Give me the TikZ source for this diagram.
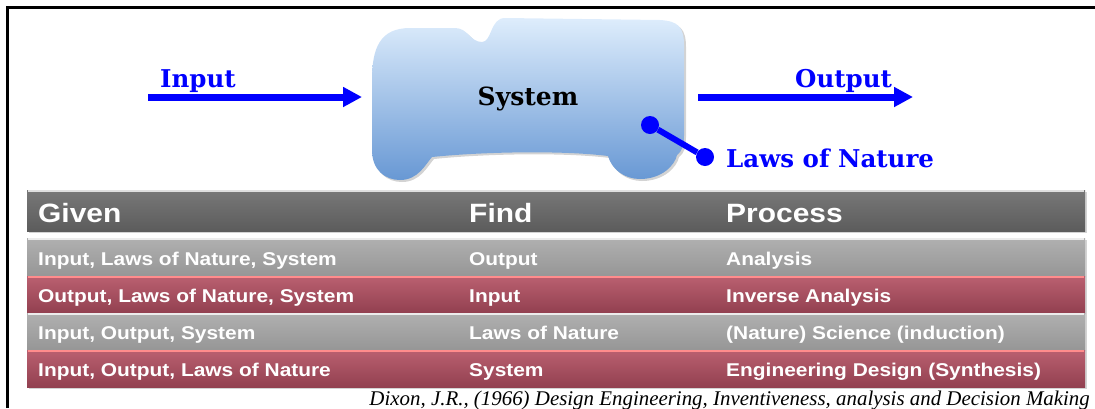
\documentclass[tikz,border=0pt]{standalone}
\usepackage{fontspec}
\setmainfont{DejaVu Serif}
\newfontfamily\tabfont[FakeStretch=1.13]{Liberation Sans}
\newfontfamily\citefont{Liberation Serif}
\usetikzlibrary{arrows.meta,shadows}
\definecolor{flowblue}{RGB}{0,0,255}
\definecolor{blobtop}{RGB}{222,237,252}
\definecolor{blobbot}{RGB}{104,152,212}
\definecolor{hdrtop}{RGB}{120,120,120}
\definecolor{hdrbot}{RGB}{92,92,92}
\definecolor{graytop}{RGB}{176,176,176}
\definecolor{graybot}{RGB}{150,150,150}
\definecolor{redtop}{RGB}{186,96,112}
\definecolor{redbot}{RGB}{146,64,80}
\begin{document}
\begin{tikzpicture}[x=1pt,y=1pt,
  lbl/.style={inner sep=0pt,anchor=base west,text=flowblue,font=\bfseries\fontsize{24.5}{24.5}\selectfont},
  flow/.style={flowblue,line width=7pt,-{Triangle[length=19pt,width=19pt]}},
  dot/.style={circle,fill=flowblue,inner sep=0pt,minimum size=18pt},
  hdr/.style={inner sep=0pt,anchor=base west,text=white,font=\tabfont\bfseries\fontsize{26.5}{26.5}\selectfont},
  cell/.style={inner sep=0pt,anchor=base west,text=white,font=\tabfont\bfseries\fontsize{18.5}{18.5}\selectfont},
  bar/.style={drop shadow={shadow xshift=2pt,shadow yshift=-2pt,opacity=.35}}]
\useasboundingbox (0,0) rectangle (1095,-408);
\draw[line width=2.5pt] (7.5,-408) |- (1095,-7.5);
% the system
\path[bar,top color=blobtop,bottom color=blobbot]
  (372,-80) -- (372,-150) .. controls (372,-170) and (385,-180) .. (400,-180)
  .. controls (418,-180) and (425,-165) .. (432,-157)
  .. controls (480,-152) and (560,-150) .. (608,-156)
  .. controls (612,-170) and (625,-179) .. (640,-179)
  .. controls (662,-179) and (675,-165) .. (677,-155)
  .. controls (683,-150) and (684,-145) .. (684,-135) -- (684,-45)
  .. controls (684,-27) and (678,-21) .. (660,-20) -- (505,-18)
  .. controls (490,-18) and (492,-42) .. (482,-42)
  .. controls (470,-42) and (468,-28) .. (455,-28) -- (410,-28)
  .. controls (380,-28) and (372,-48) .. (372,-80) -- cycle;
\node[inner sep=0pt,anchor=base,font=\bfseries\fontsize{25}{25}\selectfont] (sys) at (528,-105) {System};
\node[lbl] (in) at (160,-87) {Input};
\node[lbl] (out) at (795,-87) {Output};
\node[lbl] (law) at (726,-167) {Laws of Nature};
\coordinate (in0) at (148,-97);
\coordinate (in1) at (362,-97);
\coordinate (out0) at (698,-97);
\coordinate (out1) at (913,-97);
\draw[flow] (in0) -- (in1);
\draw[flow] (out0) -- (out1);
\node[dot] (d1) at (650,-125) {};
\node[dot] (d2) at (705,-157) {};
\draw[flowblue,line width=6pt] (d1) -- (d2);
% table
\shade[bar,top color=hdrtop,bottom color=hdrbot] (27,-190) rectangle (1085,-231);
\shade[bar,top color=graytop,bottom color=graybot] (27,-238) rectangle (1085,-276);
\shade[bar,top color=redtop,bottom color=redbot] (27,-276) rectangle (1085,-313);
\shade[bar,top color=graytop,bottom color=graybot] (27,-313) rectangle (1085,-350);
\shade[bar,top color=redtop,bottom color=redbot] (27,-350) rectangle (1085,-387);
\draw[white!75!gray,line width=2pt] (28,-191) -- (1084,-191);
\draw[white!85!gray,line width=2pt] (28,-239) -- (1084,-239);
\draw[white!85!gray,line width=2pt] (28,-314) -- (1084,-314);
\draw[red!45!white,line width=2pt] (28,-277) -- (1084,-277);
\draw[red!45!white,line width=2pt] (28,-351) -- (1084,-351);
\node[hdr] (given) at (38,-222) {Given};
\node[hdr] (find) at (469,-222) {Find};
\node[hdr] (proc) at (726,-222) {Process};
\node[cell] (g1) at (38,-265) {Input, Laws of Nature, System};
\node[cell] (f1) at (469,-265) {Output};
\node[cell] (p1) at (726,-265) {Analysis};
\node[cell] (g2) at (38,-302) {Output, Laws of Nature, System};
\node[cell] (f2) at (469,-302) {Input};
\node[cell] (p2) at (726,-302) {Inverse Analysis};
\node[cell] (g3) at (38,-339) {Input, Output, System};
\node[cell] (f3) at (469,-339) {Laws of Nature};
\node[cell] (p3) at (726,-339) {(Nature) Science (induction)};
\node[cell] (g4) at (38,-376) {Input, Output, Laws of Nature};
\node[cell] (f4) at (469,-376) {System};
\node[cell] (p4) at (726,-376) {Engineering Design (Synthesis)};
\node[inner sep=0pt,anchor=base east,font=\citefont\itshape\fontsize{20.9}{20.9}\selectfont] (cite) at (1090,-405)
  {Dixon, J.R., (1966) Design Engineering, Inventiveness, analysis and Decision Making};
\end{tikzpicture}
\end{document}
